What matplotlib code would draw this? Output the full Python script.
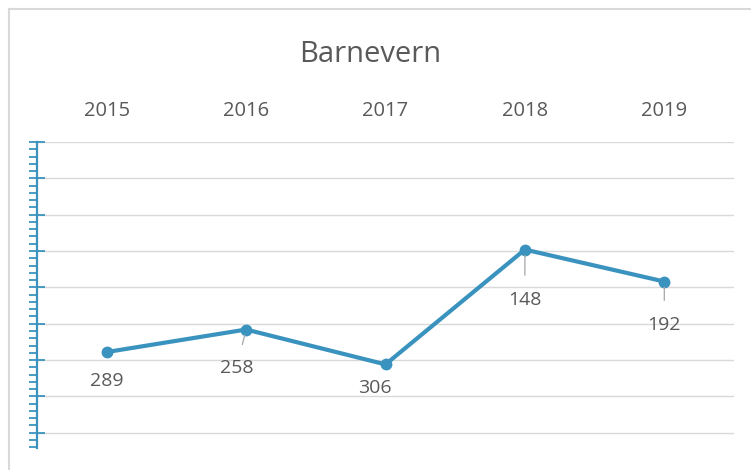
import matplotlib
matplotlib.use('Agg')
import matplotlib.pyplot as plt
from matplotlib.lines import Line2D
from matplotlib.ticker import MultipleLocator

plt.rcParams['font.family'] = ['Open Sans', 'DejaVu Sans']

# Data
years = ['2015', '2016', '2017', '2018', '2019']
values = [289, 258, 306, 148, 192]

line_color = '#3A93BE'
text_color = '#595959'
grid_color = '#D9D9D9'

fig = plt.figure(figsize=(7.51, 4.70), dpi=100)
W, H = 751, 470
ax = fig.add_axes([37 / W, 1 - 448 / H, (734 - 37) / W, (448 - 142) / H])

x = list(range(len(years)))
ax.plot(x, values, color=line_color, lw=3.0, marker='o', markersize=7.5,
        solid_joinstyle='round', zorder=3)

# inverted value axis, categories on top
ax.set_xlim(-0.5, len(years) - 0.5)
ax.set_ylim(421, 0)
ax.xaxis.tick_top()
ax.set_xticks(x)
ax.set_xticklabels(years, fontsize=14.5, color=text_color)
ax.tick_params(axis='x', length=0, pad=15)

ax.yaxis.set_major_locator(MultipleLocator(50))
ax.yaxis.set_minor_locator(MultipleLocator(10))
ax.tick_params(axis='y', which='major', direction='inout', length=12, width=1.3,
               color=line_color, labelleft=False)
ax.tick_params(axis='y', which='minor', direction='out', length=6, width=1.3,
               color=line_color)
ax.grid(axis='y', which='major', color=grid_color, lw=1.0)
ax.set_axisbelow(True)

for s in ['top', 'right', 'bottom']:
    ax.spines[s].set_visible(False)
ax.spines['left'].set_color(line_color)
ax.spines['left'].set_linewidth(1.6)

# data labels (offset in points, some with leader lines)
offsets = [(0, -21), (-7, -28), (-8, -17), (0, -36), (0, -31)]
leaders = [False, True, False, True, True]
for xi, v, off, lead in zip(x, values, offsets, leaders):
    ax.annotate(str(v), (xi, v), xytext=off, textcoords='offset points',
                ha='center', va='center', fontsize=14, color=text_color,
                arrowprops=dict(arrowstyle='-', color='#A6A6A6', lw=0.9,
                                shrinkA=9, shrinkB=4) if lead else None)

fig.text(370 / W, 1 - 55 / H, 'Barnevern', ha='center', va='center',
         fontsize=21, color=text_color)

# chart border
fig.add_artist(Line2D([9 / W, 9 / W], [0, 1 - 9 / H], color='#D9D9D9', lw=1.5))
fig.add_artist(Line2D([9 / W, 1], [1 - 9 / H, 1 - 9 / H], color='#D9D9D9', lw=1.5))

fig.savefig('out.png', dpi=100)
